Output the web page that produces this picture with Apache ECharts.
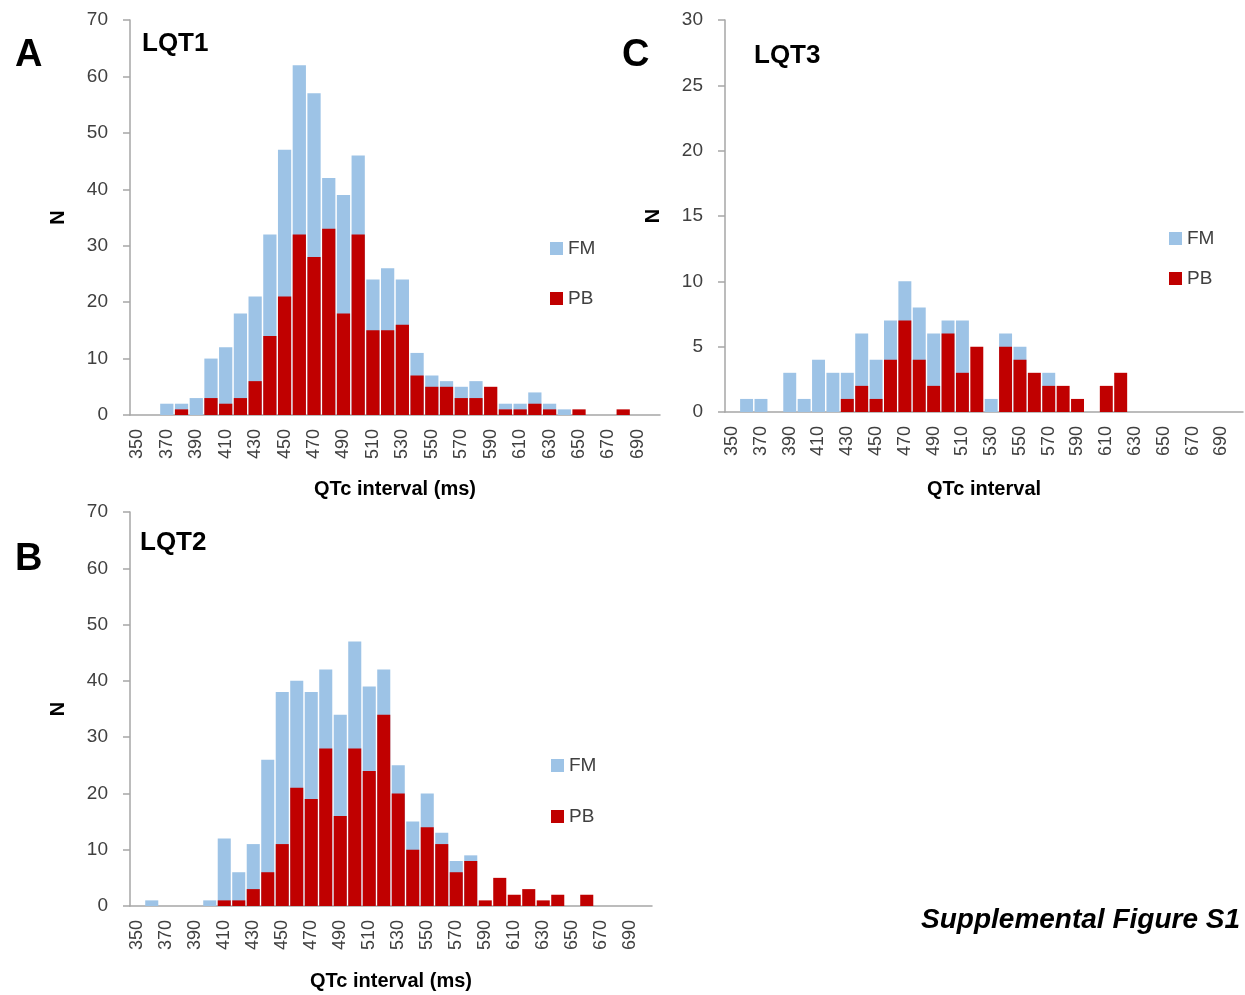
<!DOCTYPE html>
<html>
<head>
<meta charset="utf-8">
<script src="https://cdn.jsdelivr.net/npm/echarts@6/dist/echarts.min.js"></script>
<style>
  html, body { margin: 0; padding: 0; background: #fff; }
  #chart { width: 1245px; height: 995px; }
</style>
</head>
<body>
<div id="chart"></div>
<script>
// QTc bins (ms)
let qtcBins = ['350','360','370','380','390','400','410','420','430','440','450','460',
    '470','480','490','500','510','520','530','540','550','560','570','580',
    '590','600','610','620','630','640','650','660','670','680','690','700'];

// LQT1
let fmLqt1 = [0,0,2,2,3,10,12,18,21,32,47,62,57,42,39,46,24,26,24,11,7,6,5,6,0,2,2,4,2,1,0,0,0,0,0,0];
let pbLqt1 = [0,0,0,1,0,3,2,3,6,14,21,32,28,33,18,32,15,15,16,7,5,5,3,3,5,1,1,2,1,0,1,0,0,1,0,0];

// LQT2
let fmLqt2 = [0,1,0,0,0,1,12,6,11,26,38,40,38,42,34,47,39,42,25,15,20,13,8,9,0,0,0,0,0,0,0,0,0,0,0,0];
let pbLqt2 = [0,0,0,0,0,0,1,1,3,6,11,21,19,28,16,28,24,34,20,10,14,11,6,8,1,5,2,3,1,2,0,2,0,0,0,0];

// LQT3
let fmLqt3 = [0,1,1,0,3,1,4,3,3,6,4,7,10,8,6,7,7,0,1,6,5,0,3,0,0,0,0,0,0,0,0,0,0,0,0,0];
let pbLqt3 = [0,0,0,0,0,0,0,0,1,2,1,4,7,4,2,6,3,5,0,5,4,3,2,2,1,0,2,3,0,0,0,0,0,0,0,0];

let seriesNames = ['FM', 'PB'];
let yMax = [70, 70, 30];
let yStep = [10, 10, 5];
let xNames = ['QTc interval (ms)', 'QTc interval (ms)', 'QTc interval'];

const FM_COLOR = '#9dc3e6';
const PB_COLOR = '#c00000';
const AXIS_COLOR = '#a6a6a6';
const LABEL_FONT = '"Liberation Sans", Arial, sans-serif';

let grids = [
    { left: 130, top: 20, width: 530, height: 395 },
    { left: 130, top: 512, width: 522, height: 394 },
    { left: 725, top: 20, width: 518, height: 392 }
];
let xNameGap = [64, 65, 67];

let myChart = echarts.init(document.getElementById('chart'), null, { renderer: 'canvas' });

let xAxes = [], yAxes = [], series = [];
let panelData = [[fmLqt1, pbLqt1], [fmLqt2, pbLqt2], [fmLqt3, pbLqt3]];

for (let i = 0; i < 3; i++) {
    xAxes.push({
        type: 'category',
        gridIndex: i,
        data: qtcBins,
        name: xNames[i],
        nameLocation: 'middle',
        nameGap: xNameGap[i],
        nameTextStyle: { fontFamily: LABEL_FONT, fontWeight: 'bold', fontSize: 20, color: '#000' },
        axisLine: { lineStyle: { color: AXIS_COLOR, width: 1.5 } },
        axisTick: { interval: 0, length: 7, lineStyle: { color: AXIS_COLOR, width: 1.5 } },
        axisLabel: { interval: 1, rotate: 90, margin: 14, fontSize: 18, color: '#404040', fontFamily: LABEL_FONT },
        splitLine: { show: false }
    });
    yAxes.push({
        type: 'value',
        gridIndex: i,
        min: 0,
        max: yMax[i],
        interval: yStep[i],
        name: 'N',
        nameLocation: 'middle',
        nameRotate: 90,
        nameGap: 62,
        nameTextStyle: { fontFamily: LABEL_FONT, fontWeight: 'bold', fontSize: 20, color: '#000' },
        axisLine: { show: true, lineStyle: { color: AXIS_COLOR, width: 1.5 } },
        axisTick: { show: true, length: 7, lineStyle: { color: AXIS_COLOR, width: 1.5 } },
        axisLabel: { margin: 22, fontSize: 19, color: '#404040', fontFamily: LABEL_FONT },
        splitLine: { show: false }
    });
    // FM drawn first (behind), PB in front on the same slot
    series.push({
        name: 'FM', type: 'bar', xAxisIndex: i, yAxisIndex: i,
        data: panelData[i][0], barGap: '-100%', barCategoryGap: '10%',
        itemStyle: { color: FM_COLOR }, silent: true
    });
    series.push({
        name: 'PB', type: 'bar', xAxisIndex: i, yAxisIndex: i,
        data: panelData[i][1], barGap: '-100%', barCategoryGap: '10%',
        itemStyle: { color: PB_COLOR }, silent: true
    });
}

function legendAt(left, top, gap) {
    return {
        data: seriesNames,
        orient: 'vertical',
        left: left,
        top: top,
        itemGap: gap,
        icon: 'rect',
        itemWidth: 13,
        itemHeight: 13,
        padding: 0,
        selectedMode: false,
        textStyle: { fontSize: 19, color: '#404040', fontFamily: LABEL_FONT, padding: [0, 0, 0, 0] }
    };
}

function label(text, x, y, size, extra) {
    return {
        type: 'text', x: x, y: y, silent: true,
        style: Object.assign({
            text: text, fontSize: size, fontWeight: 'bold', fontFamily: LABEL_FONT,
            fill: '#000', verticalAlign: 'middle', align: 'left'
        }, extra || {})
    };
}

let option = {
    animation: false,
    backgroundColor: '#fff',
    grid: grids,
    xAxis: xAxes,
    yAxis: yAxes,
    legend: [legendAt(550, 239, 31), legendAt(551, 756, 32), legendAt(1169, 229, 21)],
    series: series,
    graphic: [
        label('A', 15, 56, 38),
        label('LQT1', 142, 44, 26),
        label('B', 15, 560, 38),
        label('LQT2', 140, 543, 26),
        label('C', 622, 56, 38),
        label('LQT3', 754, 56, 26),
        label('Supplemental Figure S1', 1240, 920, 28, { align: 'right', fontStyle: 'italic' })
    ]
};

myChart.setOption(option);
</script>
</body>
</html>
